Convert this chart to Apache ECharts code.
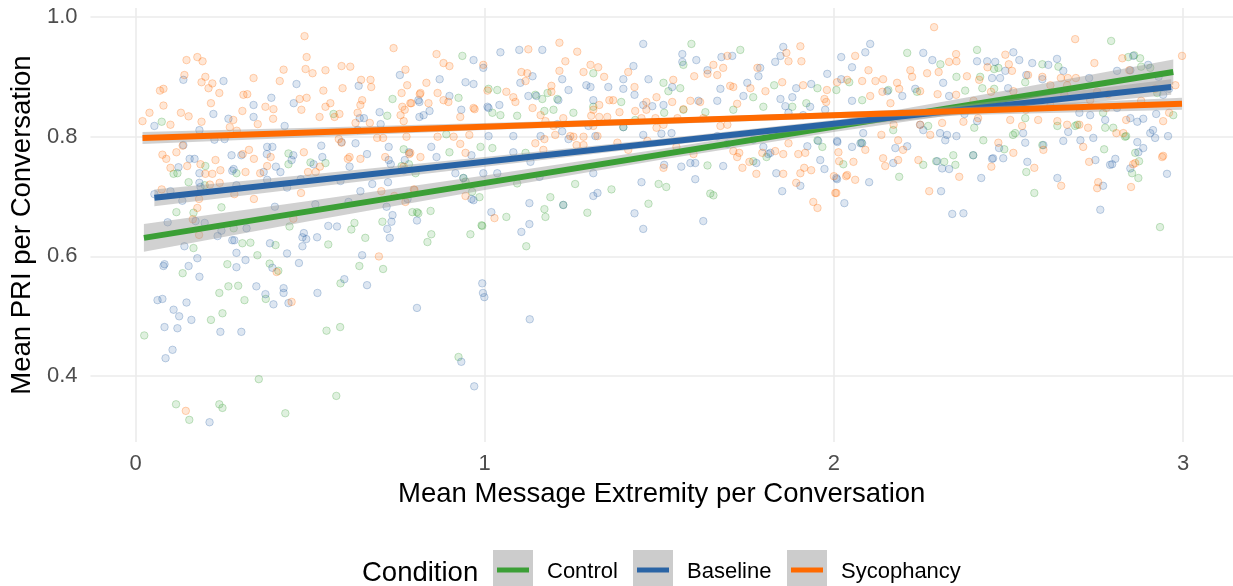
<!DOCTYPE html>
<html><head><meta charset="utf-8">
<script src="https://cdn.jsdelivr.net/npm/echarts@6/dist/echarts.min.js"></script>
<style>html,body{margin:0;padding:0;background:#fff}#c{width:1233px;height:586px}</style>
</head><body><div id="c"></div>
<script>
// ---------------- data ----------------
const conditions = ['Control', 'Baseline', 'Sycophancy'];
const xTicks = [0, 1, 2, 3];
const yTicks = [0.4, 0.6, 0.8, 1.0];

const controlPoints = [[0.075,0.825],[0.109,0.738],[0.117,0.674],[0.152,0.724],[0.166,0.673],[0.166,0.614],[0.135,0.572],[0.198,0.719],[0.2,0.751],[0.246,0.682],[0.263,0.587],[0.266,0.55],[0.289,0.739],[0.306,0.622],[0.329,0.623],[0.349,0.602],[0.384,0.588],[0.401,0.619],[0.438,0.772],[0.438,0.754],[0.441,0.65],[0.501,0.757],[0.544,0.756],[0.552,0.62],[0.567,0.838],[0.587,0.555],[0.618,0.645],[0.627,0.656],[0.641,0.584],[0.658,0.631],[0.707,0.658],[0.709,0.579],[0.721,0.835],[0.736,0.863],[0.768,0.779],[0.762,0.751],[0.783,0.754],[0.806,0.674],[0.802,0.739],
[0.025,0.468],[0.24,0.539],[0.294,0.551],[0.312,0.527],[0.373,0.529],[0.249,0.505],[0.216,0.494],[0.547,0.476],[0.586,0.482],[0.353,0.395],[0.575,0.367],[0.116,0.353],[0.24,0.353],[0.249,0.347],[0.154,0.327],[0.429,0.338],[0.925,0.432],
[0.12,0.739],[0.281,0.647],[0.409,0.576],[0.81,0.672],[0.845,0.676],[0.836,0.624],[0.847,0.637],[0.959,0.637],
[0.993,0.651],[1.062,0.666],[1.093,0.722],[1.119,0.617],[1.171,0.679],[1.174,0.666],[1.188,0.699],[1.225,0.686],[1.259,0.721],[1.294,0.673],[1.363,0.712],[1.469,0.688],[1.498,0.721],[1.52,0.716],[1.638,0.752],[1.646,0.705],[1.655,0.702],[2.027,0.754],
[0.936,0.935],[1.311,0.906],[1.512,0.89],[1.592,0.955],[1.569,0.92],[1.732,0.945],[1.829,0.886],[1.953,0.881],[1.011,0.88],[1.036,0.878],[1.145,0.87],[1.165,0.863],[1.18,0.873],[1.208,0.863],[0.925,0.865],[1.022,0.84],[1.045,0.836],[1.093,0.835],[1.171,0.843],[1.197,0.845],[1.254,0.84],[1.311,0.85],[1.391,0.858],[1.397,0.816],[1.431,0.828],[1.514,0.84],[1.569,0.845],[1.526,0.876],[1.56,0.881],[1.632,0.841],[1.712,0.845],[1.798,0.85],[1.881,0.85],[1.921,0.856],[1.769,0.866],[0.89,0.804],[0.899,0.774],[1.022,0.781],[1.117,0.773],[0.939,0.731],[0.945,0.725],[0.964,0.708],[0.985,0.699],[0.991,0.652],[0.793,0.674],[1.769,0.759],[1.807,0.766],[1.953,0.794],[0.988,0.783],
[2.21,0.94],[2.41,0.945],[2.471,0.915],[2.351,0.9],[2.376,0.877],[2.425,0.881],[2.459,0.88],[2.305,0.921],[2.794,0.96],[2.843,0.933],[2.86,0.936],[2.877,0.931],[2.88,0.917],[2.906,0.915],[2.972,0.836],[2.934,0.649],[2.872,0.731],[2.874,0.759],[2.854,0.739],[2.863,0.773],[2.834,0.8],[2.8,0.815],[2.774,0.779],[2.64,0.818],[2.574,0.706],[2.551,0.741],[2.488,0.779],[2.428,0.794],[2.399,0.769],[2.342,0.769],[2.348,0.753],[2.316,0.758],[2.293,0.759],[2.256,0.753],[2.187,0.733],[2.079,0.79],[1.967,0.783],[2.081,0.861],[2.007,0.878],[2.044,0.891],[2.156,0.878],[2.238,0.875],[2.27,0.818],[2.402,0.815],[2.513,0.803],[2.548,0.831],[2.597,0.786],[2.691,0.818],[2.771,0.84],[2.777,0.815],[2.926,0.873],[2.597,0.921],[2.643,0.917],[2.419,0.9],[2.459,0.913],[2.548,0.891],[2.837,0.801],[2.519,0.806],[2.697,0.82],[2.17,0.811]];

const baselinePoints = [[0.054,0.818],[0.054,0.704],[0.083,0.587],[0.137,0.895],[0.183,0.811],[0.137,0.786],[0.155,0.763],[0.169,0.763],[0.123,0.749],[0.183,0.739],[0.183,0.723],[0.1,0.709],[0.134,0.693],[0.186,0.716],[0.092,0.657],[0.14,0.617],[0.152,0.584],[0.177,0.597],[0.183,0.566],[0.198,0.656],[0.172,0.659],[0.223,0.838],[0.226,0.795],[0.252,0.893],[0.266,0.83],[0.277,0.743],[0.255,0.796],[0.275,0.769],[0.303,0.769],[0.289,0.719],[0.246,0.643],[0.235,0.634],[0.277,0.627],[0.289,0.606],[0.289,0.582],[0.315,0.594],[0.318,0.647],[0.346,0.55],[0.338,0.853],[0.338,0.833],[0.389,0.865],[0.377,0.783],[0.392,0.783],[0.376,0.771],[0.367,0.741],[0.402,0.75],[0.399,0.683],[0.377,0.728],[0.415,0.741],[0.427,0.818],[0.453,0.856],[0.461,0.888],[0.447,0.761],[0.452,0.769],[0.434,0.715],[0.434,0.605],[0.468,0.589],[0.478,0.632],[0.482,0.639],[0.489,0.629],[0.52,0.632],[0.532,0.785],[0.535,0.766],[0.51,0.754],[0.552,0.651],[0.577,0.65],[0.587,0.726],[0.59,0.791],[0.613,0.75],[0.644,0.709],[0.649,0.602],[0.663,0.552],[0.63,0.789],[0.636,0.811],[0.642,0.831],[0.639,0.885],[0.654,0.831],[0.663,0.771],[0.678,0.721],[0.699,0.841],[0.702,0.821],[0.725,0.783],[0.725,0.761],[0.723,0.724],[0.731,0.754],[0.721,0.646],[0.728,0.631],[0.733,0.658],[0.736,0.669],[0.757,0.903],[0.771,0.761],[0.768,0.744],[0.783,0.774],[0.806,0.66],[0.81,0.861],[0.813,0.833],
[0.063,0.527],[0.077,0.529],[0.109,0.511],[0.125,0.5],[0.146,0.523],[0.083,0.482],[0.12,0.48],[0.16,0.494],[0.106,0.444],[0.086,0.43],[0.243,0.474],[0.303,0.474],[0.372,0.537],[0.395,0.52],[0.424,0.547],[0.424,0.539],[0.438,0.522],[0.521,0.539],[0.806,0.514],[0.212,0.323],
[0.993,0.555],[0.995,0.539],[0.999,0.532],[1.129,0.495],[0.933,0.424],[0.97,0.383],
[0.283,0.627],[0.08,0.584],[0.392,0.581],[0.385,0.622],[0.478,0.617],[0.598,0.562],[0.719,0.683],[0.515,0.687],[0.61,0.691],[0.281,0.746],[0.473,0.729],
[0.996,0.739],[1.036,0.739],[0.968,0.694],[1.019,0.674],[1.128,0.689],[1.128,0.654],[1.105,0.641],[1.157,0.733],[1.225,0.686],[1.311,0.739],[1.311,0.701],[1.323,0.706],[1.449,0.724],[1.429,0.672],[1.454,0.646],[1.514,0.753],[1.563,0.75],[1.589,0.756],[1.603,0.756],[1.603,0.729],[1.626,0.659],[1.683,0.751],[1.778,0.756],[1.835,0.739],[1.852,0.709],[1.904,0.718],[1.961,0.761],[1.973,0.746],[2.009,0.729],[2.03,0.689],
[0.968,0.928],[0.996,0.915],[0.968,0.888],[1.045,0.941],[1.099,0.945],[1.165,0.945],[1.137,0.901],[1.102,0.89],[1.042,0.853],[1.008,0.85],[1.125,0.868],[1.148,0.868],[1.211,0.861],[1.222,0.896],[1.24,0.878],[1.291,0.886],[1.303,0.883],[1.311,0.861],[1.354,0.883],[1.397,0.896],[1.426,0.918],[1.454,0.955],[1.469,0.896],[1.397,0.88],[1.429,0.87],[1.454,0.853],[1.48,0.851],[1.512,0.853],[1.537,0.883],[1.566,0.938],[1.566,0.925],[1.606,0.928],[1.612,0.86],[1.638,0.911],[1.666,0.86],[1.675,0.88],[1.678,0.933],[1.709,0.935],[1.752,0.89],[1.741,0.868],[1.784,0.901],[1.789,0.915],[1.832,0.925],[1.847,0.935],[1.855,0.95],[1.847,0.863],[1.861,0.851],[1.881,0.866],[1.892,0.881],[1.935,0.888],[1.981,0.905],[1.932,0.85],[2.021,0.933],[2.021,0.896],[1.011,0.801],[1.082,0.801],[1.082,0.774],[1.16,0.801],[1.131,0.758],[1.208,0.821],[1.222,0.809],[1.24,0.796],[1.297,0.818],[1.317,0.801],[1.397,0.816],[1.454,0.803],[1.506,0.805],[1.535,0.806],[1.666,0.801],[1.695,0.788],[1.769,0.795],[1.798,0.783],[1.812,0.771],[1.924,0.784],[1.955,0.793],[2.009,0.793],[1.975,0.845],[1.912,0.836],[1.87,0.84],
[2.052,0.916],[2.09,0.941],[2.104,0.955],[2.052,0.86],[2.153,0.876],[2.196,0.868],[2.233,0.88],[2.256,0.94],[2.282,0.928],[2.313,0.89],[2.33,0.868],[2.41,0.926],[2.439,0.926],[2.453,0.898],[2.476,0.898],[2.462,0.925],[2.491,0.91],[2.514,0.941],[2.531,0.928],[2.568,0.923],[2.614,0.92],[2.639,0.93],[2.657,0.91],[2.597,0.896],[2.551,0.903],[2.499,0.881],[2.731,0.898],[2.811,0.91],[2.849,0.911],[2.857,0.935],[2.943,0.87],[2.923,0.838],[2.886,0.83],[2.869,0.825],[2.849,0.831],[2.811,0.848],[2.777,0.828],[2.734,0.836],[2.703,0.84],[2.671,0.808],[2.743,0.798],[2.906,0.806],[2.914,0.811],[2.957,0.801],[2.886,0.781],[2.869,0.791],[2.791,0.753],[2.806,0.763],[2.749,0.761],[2.706,0.794],[2.657,0.793],[2.6,0.786],[2.548,0.79],[2.542,0.806],[2.473,0.781],[2.456,0.764],[2.399,0.769],[2.41,0.826],[2.374,0.838],[2.324,0.803],[2.319,0.794],[2.351,0.801],[2.304,0.806],[2.247,0.82],[2.256,0.811],[2.21,0.784],[2.17,0.756],[2.176,0.781],[2.084,0.806],[2.076,0.789],[2.554,0.758],[2.296,0.759],
[2.01,0.791],[2.007,0.731],[2.101,0.724],[2.052,0.783],[2.081,0.789],[2.307,0.709],[2.339,0.671],[2.371,0.672],[2.31,0.747],[2.33,0.746],[2.453,0.763],[2.422,0.731],[2.485,0.764],[2.64,0.731],[2.771,0.718],[2.763,0.678],[2.797,0.754],[2.849,0.747],[2.872,0.774],[2.954,0.738],[2.92,0.798],
[0.871,0.896],[0.945,0.891],[0.813,0.858],[0.825,0.836],[0.842,0.843],[0.899,0.868],[0.933,0.845],[0.847,0.783],[0.862,0.766],[0.962,0.769],[0.916,0.739],[0.939,0.731],[0.962,0.696],[1.011,0.848],[0.779,0.696],[1.818,0.773],[2.9,0.92],[2.93,0.9],[2.96,0.88]];

const sycophancyPoints = [[0.02,0.826],[0.04,0.84],[0.07,0.877],[0.08,0.88],[0.08,0.852],[0.1,0.82],[0.077,0.77],[0.088,0.763],[0.1,0.748],[0.13,0.84],[0.152,0.834],[0.14,0.903],[0.146,0.928],[0.177,0.933],[0.192,0.926],[0.2,0.9],[0.189,0.891],[0.209,0.881],[0.22,0.889],[0.24,0.873],[0.216,0.856],[0.189,0.825],[0.135,0.785],[0.117,0.774],[0.148,0.751],[0.186,0.754],[0.2,0.738],[0.22,0.738],[0.243,0.744],[0.229,0.761],[0.241,0.723],[0.213,0.72],[0.177,0.681],[0.164,0.662],[0.182,0.636],[0.182,0.696],[0.075,0.712],[0.339,0.696],[0.28,0.828],[0.306,0.843],[0.309,0.87],[0.32,0.871],[0.338,0.898],[0.35,0.821],[0.27,0.816],[0.29,0.81],[0.372,0.85],[0.394,0.83],[0.395,0.846],[0.424,0.912],[0.413,0.893],[0.47,0.863],[0.475,0.845],[0.484,0.968],[0.49,0.933],[0.487,0.913],[0.507,0.906],[0.49,0.865],[0.482,0.774],[0.325,0.778],[0.307,0.771],[0.339,0.763],[0.357,0.739],[0.377,0.751],[0.387,0.766],[0.315,0.741],[0.283,0.704],[0.474,0.706],[0.494,0.741],[0.516,0.741],[0.528,0.75],[0.544,0.911],[0.538,0.877],[0.544,0.85],[0.527,0.833],[0.558,0.856],[0.57,0.833],[0.584,0.838],[0.59,0.918],[0.615,0.917],[0.593,0.881],[0.649,0.861],[0.644,0.853],[0.636,0.84],[0.63,0.823],[0.646,0.895],[0.673,0.895],[0.675,0.883],[0.671,0.823],[0.692,0.798],[0.582,0.796],[0.59,0.79],[0.613,0.766],[0.608,0.763],[0.644,0.763],[0.709,0.798],[0.715,0.766],[0.739,0.948],[0.773,0.912],[0.762,0.873],[0.764,0.85],[0.771,0.845],[0.778,0.886],[0.79,0.856],[0.759,0.836],[0.768,0.826],[0.776,0.8],[0.768,0.75],[0.784,0.771],[0.773,0.691],[0.814,0.871],[0.697,0.6],[0.741,0.701],[0.447,0.524],[0.144,0.342],[0.404,0.574],[0.452,0.663],[0.704,0.709],[0.797,0.712],
[1.028,0.664],[1.512,0.748],[1.738,0.748],[1.778,0.738],[1.855,0.738],[1.892,0.723],[1.904,0.739],[1.915,0.748],[1.935,0.744],[1.941,0.691],[1.953,0.681],[2.0,0.734],[2.007,0.706],[2.035,0.734],
[0.996,0.92],[1.008,0.877],[0.968,0.848],[1.062,0.875],[1.082,0.866],[1.088,0.858],[1.105,0.908],[1.122,0.906],[1.117,0.893],[1.125,0.946],[1.214,0.957],[1.231,0.926],[1.214,0.91],[1.265,0.942],[1.191,0.885],[1.191,0.875],[1.137,0.848],[1.16,0.836],[1.174,0.826],[1.197,0.818],[1.202,0.803],[1.171,0.796],[1.283,0.908],[1.303,0.92],[1.325,0.916],[1.342,0.9],[1.357,0.861],[1.368,0.861],[1.328,0.853],[1.311,0.845],[1.305,0.835],[1.328,0.833],[1.351,0.833],[1.386,0.841],[1.411,0.908],[1.429,0.883],[1.463,0.858],[1.492,0.866],[1.431,0.843],[1.463,0.845],[1.449,0.831],[1.489,0.831],[1.311,0.818],[1.225,0.831],[1.245,0.801],[1.263,0.786],[1.283,0.786],[1.323,0.801],[1.38,0.79],[1.411,0.778],[1.466,0.793],[1.492,0.815],[1.512,0.82],[1.54,0.895],[1.537,0.858],[1.552,0.831],[1.569,0.846],[1.589,0.86],[1.6,0.901],[1.617,0.858],[1.626,0.831],[1.638,0.905],[1.655,0.92],[1.666,0.903],[1.683,0.915],[1.695,0.935],[1.675,0.818],[1.695,0.82],[1.703,0.885],[1.712,0.883],[1.723,0.855],[1.761,0.881],[1.781,0.915],[1.804,0.876],[1.852,0.891],[1.864,0.94],[1.87,0.926],[1.904,0.951],[1.907,0.926],[1.912,0.886],[1.973,0.863],[1.978,0.858],[1.98,0.878],[2.009,0.891],[2.038,0.895],[1.712,0.776],[1.729,0.773],[1.758,0.758],[1.795,0.773],[1.832,0.776],[1.855,0.771],[1.918,0.773],[2.013,0.774],[2.015,0.759],
[2.287,0.983],[2.061,0.935],[2.099,0.911],[2.081,0.893],[2.119,0.893],[2.141,0.896],[2.104,0.868],[2.139,0.875],[2.181,0.89],[2.187,0.88],[2.219,0.911],[2.224,0.9],[2.247,0.876],[2.267,0.906],[2.3,0.908],[2.33,0.925],[2.35,0.938],[2.351,0.926],[2.297,0.871],[2.381,0.901],[2.416,0.895],[2.44,0.916],[2.491,0.937],[2.501,0.921],[2.51,0.91],[2.556,0.903],[2.597,0.9],[2.65,0.898],[2.67,0.898],[2.693,0.898],[2.691,0.963],[2.746,0.923],[2.826,0.931],[2.846,0.911],[2.997,0.935],[2.978,0.886],[2.754,0.875],[2.785,0.871],[2.734,0.861],[2.668,0.886],[2.62,0.886],[2.514,0.876],[2.136,0.803],[2.162,0.856],[2.171,0.82],[2.184,0.794],[2.198,0.778],[2.247,0.82],[2.276,0.803],[2.31,0.823],[2.371,0.825],[2.413,0.831],[2.471,0.79],[2.514,0.773],[2.505,0.828],[2.539,0.818],[2.6,0.778],[2.585,0.828],[2.64,0.826],[2.668,0.82],[2.703,0.82],[2.728,0.815],[2.714,0.783],[2.809,0.806],[2.829,0.806],[2.837,0.828],[2.943,0.826],[2.943,0.768],[2.863,0.756],[2.731,0.758],[2.242,0.761],[2.184,0.761],[2.141,0.764],[2.09,0.778],[2.056,0.758],
[2.004,0.706],[2.061,0.728],[2.038,0.736],[2.147,0.751],[2.273,0.709],[2.359,0.733],[2.451,0.75],[2.574,0.748],[2.651,0.718],[2.754,0.714],[2.757,0.724],[2.851,0.716],[2.94,0.766],[2.857,0.754],
[0.862,0.938],[0.882,0.923],[0.899,0.918],[0.833,0.89],[0.816,0.873],[0.865,0.873],[0.882,0.861],[0.896,0.858],[0.787,0.856],[0.839,0.856],[0.93,0.833],[0.971,0.846],[0.865,0.8],[0.911,0.8],[0.945,0.773],[0.816,0.766],[0.787,0.773],[0.93,0.788],[0.956,0.803],[0.799,0.711],[0.945,0.701],[1.145,0.789],[1.168,0.778],[1.254,0.8],[1.283,0.8],[1.549,0.783],[1.598,0.771],[1.723,0.766],[1.87,0.789],[1.898,0.771],
[2.55,0.845],[2.62,0.852],[2.78,0.848],[2.88,0.86],[2.92,0.88],[2.96,0.84],[2.66,0.87],[2.4,0.86],[2.45,0.875],[2.35,0.87]];

// linear fits (end points) and confidence bands
const controlFitX = [0.024, 2.972],  controlFitY = [0.631, 0.908];
const baselineFitX = [0.054, 2.966], baselineFitY = [0.698, 0.883];
const sycoFitX = [0.02, 2.997],      sycoFitY = [0.798, 0.855];

const controlBandX = [0.024, 0.5, 1.0, 1.5, 2.0, 2.5, 2.972];
const controlBandLo = [0.608, 0.659, 0.711, 0.761, 0.808, 0.850, 0.887];
const controlBandHi = [0.654, 0.693, 0.735, 0.779, 0.826, 0.878, 0.929];
const baselineBandX = [0.054, 0.5, 1.0, 1.5, 2.0, 2.5, 2.966];
const baselineBandLo = [0.684, 0.715, 0.750, 0.784, 0.816, 0.844, 0.870];
const baselineBandHi = [0.712, 0.737, 0.766, 0.796, 0.828, 0.862, 0.896];
const sycoBandX = [0.02, 0.5, 1.0, 1.5, 2.0, 2.5, 2.997];
const sycoBandLo = [0.788, 0.799, 0.811, 0.821, 0.831, 0.838, 0.845];
const sycoBandHi = [0.808, 0.815, 0.823, 0.831, 0.841, 0.852, 0.865];

// ---------------- chart ----------------
const colors = {Control:'#3b9f36', Baseline:'#2a64a5', Sycophancy:'#ff6a00'};
const rgb = {Control:'59,159,54', Baseline:'42,100,165', Sycophancy:'255,106,0'};
const FONT = '"Liberation Sans", Arial, Helvetica, sans-serif';

function scatter(name, pts, z){
  return {type:'scatter', name, data:pts, symbol:'circle', symbolSize:7.5, z, silent:true,
    itemStyle:{color:`rgba(${rgb[name]},0.2)`, borderColor:`rgba(${rgb[name]},0.34)`, borderWidth:1}};
}
function band(name, xs, lo, hi, z){
  const data = xs.map((x,i)=>[x, lo[i], hi[i]]);
  return {type:'custom', name:name+' band', data, z, silent:true, clip:true,
    renderItem:function(params, api){
      if (params.dataIndex !== 0) return null;
      const top = data.map(d=>api.coord([d[0], d[2]]));
      const bot = data.map(d=>api.coord([d[0], d[1]])).reverse();
      return {type:'polygon', shape:{points:top.concat(bot)},
        style:{fill:'rgba(153,153,153,0.45)', stroke:null}};
    }};
}
function fit(name, xs, ys, z){
  return {type:'line', name:name+' fit', data:xs.map((x,i)=>[x, ys[i]]), showSymbol:false, symbol:'none',
    z, silent:true, lineStyle:{color:colors[name], width:6, cap:'butt'}};
}

const chart = echarts.init(document.getElementById('c'), null, {renderer:'canvas'});

// legend drawn as graphic (ggplot style keys)
const legendLeft = [493, 633, 787];
const legendGraphics = [{type:'text', left:362, top:575 - 16, style:{text:'Condition', font:'27.5px ' + FONT, fill:'#000'}}];
conditions.forEach((c,i)=>{
  const x = legendLeft[i];
  legendGraphics.push({type:'rect', shape:{x:x, y:550, width:40, height:40}, style:{fill:'#cccccc'}});
  legendGraphics.push({type:'line', shape:{x1:x+4, y1:570, x2:x+36, y2:570}, style:{stroke:colors[c], lineWidth:5}});
  legendGraphics.push({type:'text', x:x+54, y:572, style:{text:c, font:'22px ' + FONT, fill:'#000', textVerticalAlign:'middle', verticalAlign:'middle'}});
});

chart.setOption({
  animation:false,
  backgroundColor:'#fff',
  grid:{left:90, right:0, top:8, bottom:144, containLabel:false},
  xAxis:{type:'value', min:-0.129, max:3.143,
    name:'Mean Message Extremity per Conversation', nameLocation:'middle', nameGap:38,
    nameTextStyle:{fontSize:27.5, color:'#000', fontFamily:FONT},
    axisLine:{show:false}, axisTick:{show:false, customValues:xTicks},
    axisLabel:{customValues:xTicks, fontSize:22, color:'#4d4d4d', fontFamily:FONT, margin:11, formatter:v=>String(v)},
    splitLine:{show:true, lineStyle:{color:'#ebebeb', width:1.6}}},
  yAxis:{type:'value', min:0.29, max:1.015,
    name:'Mean PRI per Conversation', nameLocation:'middle', nameGap:44,
    nameTextStyle:{fontSize:27.5, color:'#000', fontFamily:FONT},
    axisLine:{show:false}, axisTick:{show:false, customValues:yTicks},
    axisLabel:{customValues:yTicks, fontSize:22, color:'#4d4d4d', fontFamily:FONT, margin:13, formatter:v=>v.toFixed(1)},
    splitLine:{show:true, lineStyle:{color:'#ebebeb', width:1.6}}},
  series:[
    scatter('Control', controlPoints, 2),
    scatter('Baseline', baselinePoints, 2),
    scatter('Sycophancy', sycophancyPoints, 2),
    band('Control', controlBandX, controlBandLo, controlBandHi, 3),
    fit('Control', controlFitX, controlFitY, 4),
    band('Baseline', baselineBandX, baselineBandLo, baselineBandHi, 5),
    fit('Baseline', baselineFitX, baselineFitY, 6),
    band('Sycophancy', sycoBandX, sycoBandLo, sycoBandHi, 7),
    fit('Sycophancy', sycoFitX, sycoFitY, 8)
  ],
  graphic:legendGraphics
});
</script></body></html>
